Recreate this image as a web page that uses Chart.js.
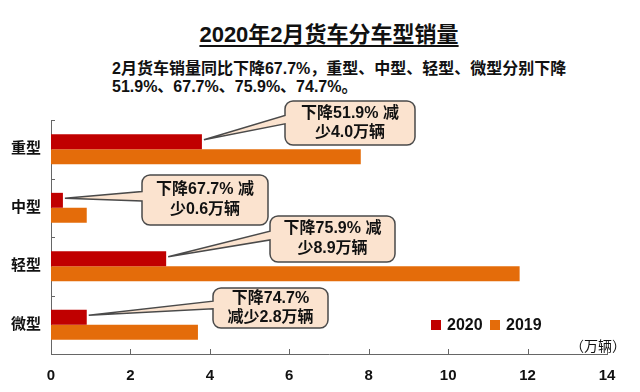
<!DOCTYPE html>
<html>
<head>
<meta charset="utf-8">
<script src="https://cdn.jsdelivr.net/npm/chart.js@4"></script>
<style>
  html, body { margin: 0; padding: 0; background: #fff; }
  #wrap { position: relative; width: 640px; height: 392px; font-family: "Liberation Sans", "Noto Sans CJK SC", sans-serif; }
  #title { position: absolute; left: 0; width: 658px; top: 16px; text-align: center; font-size: 22px; font-weight: bold; color: #111;
           text-decoration: underline; text-underline-offset: 3px; text-decoration-thickness: 2px; }
  #sub { position: absolute; left: 112px; top: 60px; font-size: 16px; font-weight: bold; line-height: 18px; color: #111; white-space: nowrap; }
  canvas { position: absolute; left: 0; top: 0; }
</style>
</head>
<body>
<div id="wrap">
  <div id="title">2020年2月货车分车型销量</div>
  <div id="sub">2月货车销量同比下降67.7%，重型、中型、轻型、微型分别下降<br>51.9%、67.7%、75.9%、74.7%。</div>
  <canvas id="chart" width="640" height="392"></canvas>
</div>
<script>
'use strict';

// ── Data ────────────────────────────────────────
const categories = ['重型', '中型', '轻型', '微型'];
const sales2020 = [3.8, 0.3, 2.9, 0.9];
const sales2019 = [7.8, 0.9, 11.8, 3.7];
const xTicks = [0, 2, 4, 6, 8, 10, 12, 14];
const callouts = [
    ['下降51.9% 减', '少4.0万辆'],
    ['下降67.7% 减', '少0.6万辆'],
    ['下降75.9% 减', '少8.9万辆'],
    ['下降74.7%', '减少2.8万辆'],
];

// callout box layout (x, y, w, h) in canvas pixels
const boxes = [
    [285, 101, 130, 44],
    [142, 175, 126, 50],
    [270, 216, 125, 46],
    [213, 288, 115, 40],
];

const RED = '#c00000';
const ORANGE = '#e46c0a';
const FONT = '"Liberation Sans", "Noto Sans CJK SC", sans-serif';

const decorPlugin = {
    id: 'decor',
    afterDatasetsDraw(chart) {
        const { ctx, chartArea, scales } = chart;
        const xs = scales.x, ys = scales.y;
        ctx.save();

        // inner ticks
        ctx.strokeStyle = '#666';
        ctx.lineWidth = 1;
        ctx.beginPath();
        xTicks.forEach(v => {
            if (v === 0) return;
            const px = Math.round(xs.getPixelForValue(v)) + 0.5;
            ctx.moveTo(px, chartArea.bottom);
            ctx.lineTo(px, chartArea.bottom - 5);
        });
        for (let i = 0; i <= categories.length; i++) {
            const py = Math.round(ys.getPixelForValue(i - 0.5)) + 0.5;
            ctx.moveTo(chartArea.left, py);
            ctx.lineTo(chartArea.left + 4, py);
        }
        ctx.stroke();

        // callouts
        const bars = chart.getDatasetMeta(0).data;
        callouts.forEach((lines, i) => {
            const [x, y, w, h] = boxes[i];
            const r = 8;
            const tipX = bars[i].x + 2, tipY = bars[i].y - 2;
            const b1 = y + h * 0.33, b2 = y + h * 0.52;
            ctx.beginPath();
            ctx.moveTo(x + r, y);
            ctx.lineTo(x + w - r, y);
            ctx.arcTo(x + w, y, x + w, y + r, r);
            ctx.lineTo(x + w, y + h - r);
            ctx.arcTo(x + w, y + h, x + w - r, y + h, r);
            ctx.lineTo(x + r, y + h);
            ctx.arcTo(x, y + h, x, y + h - r, r);
            ctx.lineTo(x, b2);
            ctx.lineTo(tipX, tipY);
            ctx.lineTo(x, b1);
            ctx.lineTo(x, y + r);
            ctx.arcTo(x, y, x + r, y, r);
            ctx.closePath();
            ctx.fillStyle = '#fbe3cf';
            ctx.fill();
            ctx.strokeStyle = '#4a4a4a';
            ctx.lineWidth = 1.5;
            ctx.stroke();

            ctx.fillStyle = '#111';
            ctx.font = 'bold 16px ' + FONT;
            ctx.textAlign = 'center';
            ctx.textBaseline = 'middle';
            const gap = h > 44 ? 20 : 19;
            const cy = y + h / 2;
            ctx.fillText(lines[0], x + w / 2, cy - gap / 2);
            ctx.fillText(lines[1], x + w / 2, cy + gap / 2);
        });

        // legend
        const ds = chart.data.datasets;
        let lx = chartArea.right - 176;
        const ly = chartArea.bottom - 29;
        ctx.font = 'bold 16px ' + FONT;
        ctx.textAlign = 'left';
        ctx.textBaseline = 'middle';
        ds.forEach(d => {
            ctx.fillStyle = d.backgroundColor;
            ctx.fillRect(lx, ly - 5, 10, 10);
            ctx.fillStyle = '#111';
            ctx.fillText(d.label, lx + 16, ly + 1);
            lx += 59;
        });

        // unit
        ctx.font = '14px ' + FONT;
        ctx.textAlign = 'center';
        ctx.fillText('（万辆）', chartArea.right - 9, chartArea.bottom - 7);
        ctx.restore();
    }
};

new Chart(document.getElementById('chart'), {
    type: 'bar',
    data: {
        labels: categories,
        datasets: [
            { label: '2020', data: sales2020, backgroundColor: RED },
            { label: '2019', data: sales2019, backgroundColor: ORANGE },
        ],
    },
    options: {
        indexAxis: 'y',
        responsive: false,
        animation: false,
        devicePixelRatio: 1,
        barPercentage: 1,
        categoryPercentage: 0.51,
        layout: { padding: { top: 120, right: 33, left: 0, bottom: 0 } },
        plugins: {
            legend: { display: false },
            tooltip: { enabled: false },
        },
        scales: {
            x: {
                min: 0,
                max: 14,
                afterBuildTicks: (s) => { s.ticks = xTicks.map(v => ({ value: v })); },
                afterFit: (s) => { s.height = 38; },
                grid: { display: false, drawTicks: false },
                border: { display: true, color: '#666', width: 1 },
                ticks: { color: '#111', padding: 13, font: { family: FONT, size: 15, weight: 'bold' } },
            },
            y: {
                afterFit: (s) => { s.width = 51; },
                grid: { display: false, drawTicks: false },
                border: { display: true, color: '#666', width: 1 },
                ticks: { color: '#111', padding: 10, font: { family: FONT, size: 15, weight: 'bold' } },
            },
        },
    },
    plugins: [decorPlugin],
});
</script>
</body>
</html>
